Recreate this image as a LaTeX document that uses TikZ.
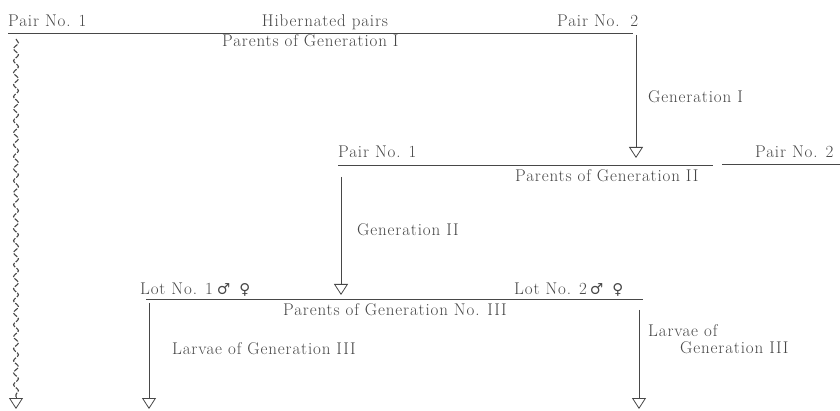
\documentclass[tikz,border=0pt]{standalone}
\usepackage{fontspec}
\setmainfont{Latin Modern Roman}[LetterSpace=5]
\newfontfamily\symfont{DejaVu Serif}
\usetikzlibrary{arrows.meta,decorations.pathmorphing}
\definecolor{ink}{gray}{0.28}

\begin{document}
\begin{tikzpicture}[x=1pt,y=-1pt,
  every node/.style={font=\fontsize{17}{20}\selectfont, text=ink, inner sep=0pt},
  lbl/.style={anchor=base west},
  sex/.style={font=\symfont\fontsize{15}{20}\selectfont},
  rule/.style={draw=ink, line width=0.9pt},
  flow/.style={draw=ink, line width=0.8pt,
    -{Triangle[open, width=14pt, length=11pt, line width=0.8pt]}},
  wavy/.style={draw=ink, line width=1.1pt, dash pattern=on 5pt off 1.5pt,
    decorate, decoration={snake, amplitude=2.4pt, segment length=12pt}},
]
\useasboundingbox (0,0) rectangle (840,411);

% hibernated pairs: parents of generation I
\node[lbl] (p1a) at (8,27) {Pair No. 1};
\node[anchor=base] (hib) at (325,27) {Hibernated pairs};
\node[lbl] (p2a) at (557,27) {Pair No.\, 2};
\coordinate (l1w) at (8,33);
\coordinate (l1e) at (633,33);
\draw[rule] (l1w) -- (l1e);
\node[lbl] (par1) at (222,47) {Parents of Generation I};

% line of pair no. 1 carried straight down
\coordinate (w0) at (16,39);
\coordinate (w1) at (16,397);
\coordinate (w2) at (16,409);
\draw[wavy] (w0) -- (w1);
\draw[flow] (w1) -- (w2);

% generation I
\coordinate (g1a) at (636,35);
\coordinate (g1b) at (636,158);
\draw[flow] (g1a) -- (g1b);
\node[lbl] (gen1) at (648,103) {Generation I};

% parents of generation II
\node[lbl] (p1b) at (338,158) {Pair No. 1};
\node[lbl] (p2b) at (755,158) {Pair No. 2};
\coordinate (l2w) at (338,165);
\coordinate (l2m) at (713,165);
\coordinate (l2n) at (722,164);
\coordinate (l2e) at (840,164);
\draw[rule] (l2w) -- (l2m);
\draw[rule] (l2n) -- (l2e);
\node[lbl] (par2) at (515,182) {Parents of Generation II};

% generation II
\coordinate (g2a) at (341,177);
\coordinate (g2b) at (341,295);
\draw[flow] (g2a) -- (g2b);
\node[lbl] (gen2) at (357,236) {Generation II};

% parents of generation III
\node[lbl] (lot1) at (140,295) {Lot No. 1\hspace{4pt}{\symfont\fontsize{15}{20}\selectfont ♂\hspace{9pt}♀}};
\node[lbl] (lot2) at (514,295) {Lot No. 2\hspace{3pt}{\symfont\fontsize{15}{20}\selectfont ♂\hspace{9pt}♀}};
\coordinate (l3w) at (146,299);
\coordinate (l3e) at (643,299);
\draw[rule] (l3w) -- (l3e);
\node[anchor=base] (par3) at (395,316) {Parents of Generation No. III};

% larvae of generation III
\coordinate (la) at (149,303);
\coordinate (lb) at (149,409);
\draw[flow] (la) -- (lb);
\node[lbl] (lar1) at (172,354) {Larvae of Generation III};

\coordinate (ra) at (639,310);
\coordinate (rb) at (639,409);
\draw[flow] (ra) -- (rb);
\node[lbl] (lar2a) at (648,337) {Larvae of};
\node[lbl] (lar2b) at (680,353) {Generation III};
\end{tikzpicture}
\end{document}
